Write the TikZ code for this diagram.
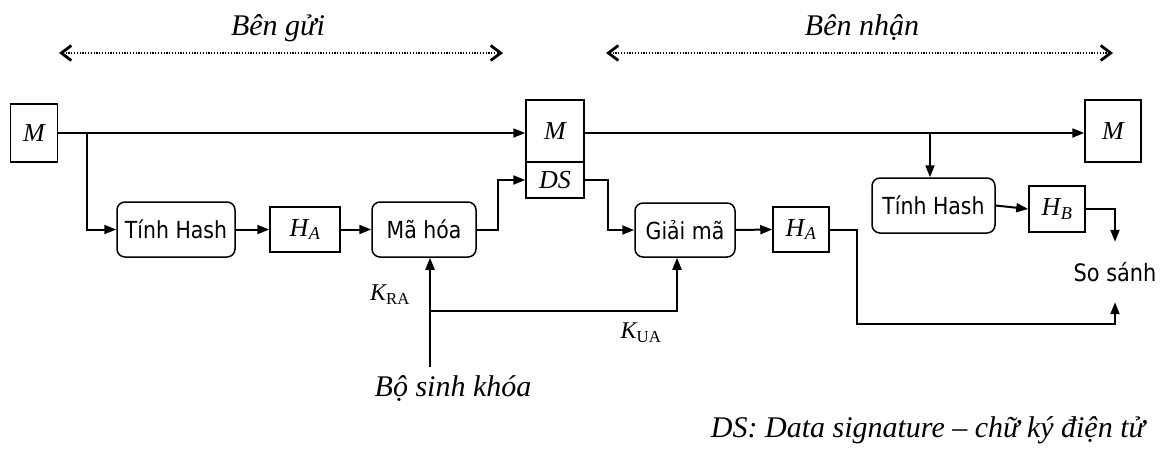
\documentclass[tikz,border=0pt]{standalone}
\usepackage{fontspec}
\setmainfont{Liberation Serif}
\setsansfont[FakeStretch=0.87]{DejaVu Sans}
\usetikzlibrary{arrows.meta,calc}
\newcommand{\vsub}[2]{{\itshape #1}\kern0.5pt\textsubscript{\itshape #2}}
\begin{document}
\begin{tikzpicture}[x=1pt,y=-1pt,
  mbox/.style={draw,line width=1.5pt,inner sep=0pt,font=\itshape\fontsize{26}{30}\selectfont},
  rbox/.style={draw,line width=1.5pt,rounded corners=8pt,inner sep=0pt,font=\sffamily\fontsize{23.5}{28}\selectfont},
  conn/.style={line width=2pt,-{Triangle[length=12pt,width=9pt]}},
  side/.style={line width=2pt,dash pattern=on 1.2pt off 1.6pt,
    {Straight Barb[length=10pt,width=15pt,line width=2.8pt]}-{Straight Barb[length=10pt,width=15pt,line width=2.8pt]}},
  lab/.style={font=\itshape\fontsize{30}{34}\selectfont},
  klab/.style={font=\fontsize{24}{28}\selectfont}]
\useasboundingbox (0,0) rectangle (1162,450);

% side labels
\node[lab] (ben1) at (278,28) {Bên gửi};
\node[lab] (ben2) at (862,28) {Bên nhận};
\coordinate (s1a) at (59,53);
\coordinate (s1b) at (503,53);
\coordinate (s2a) at (606,53);
\coordinate (s2b) at (1113,53);
\draw[side] (s1a) -- (s1b);
\draw[side] (s2a) -- (s2b);

% nodes
\node[mbox,minimum width=47pt,minimum height=58pt] (mL) at (34,133) {M};
\node[mbox,minimum width=58pt,minimum height=62pt] (mM) at (555,131) {M};
\node[mbox,minimum width=58pt,minimum height=36pt] (ds) at (555,180) {DS};
\node[mbox,minimum width=56pt,minimum height=62pt] (mR) at (1113,131) {M};
\node[rbox,minimum width=118pt,minimum height=55pt] (th1) at (176,229.5) {Tính Hash};
\node[mbox,minimum width=70pt,minimum height=45pt] (ha1) at (305,229.5) {\vsub{H}{A}};
\node[rbox,minimum width=104pt,minimum height=55pt] (mh) at (424,229.5) {Mã hóa};
\node[rbox,minimum width=100pt,minimum height=54pt] (gm) at (685,230) {Giải mã};
\node[mbox,minimum width=56pt,minimum height=45pt] (ha2) at (801,229.5) {\vsub{H}{A}};
\node[rbox,minimum width=123pt,minimum height=55pt] (th2) at (933.5,205.5) {Tính Hash};
\node[mbox,minimum width=56pt,minimum height=46pt] (hb) at (1057,209) {\vsub{H}{B}};
\node[font=\sffamily\fontsize{24}{28}\selectfont,minimum height=60pt,inner sep=0pt] (ss) at (1115,272) {So sánh};

\node[klab] (kra) at (390,295) {{\itshape K}\textsubscript{RA}};
\node[klab] (kua) at (641,333) {{\itshape K}\textsubscript{UA}};
\node[lab] (bsk) at (453,389) {Bộ sinh khóa};
\node[lab] (note) at (928,430) {DS: Data signature – chữ ký điện tử};

% connectors
\coordinate (b1) at (87,133);
\coordinate (b2) at (930,133);
\draw[conn] (mL.east) -- (mL.east -| mM.west);
\draw[conn] (b1) |- (th1.west);
\draw[conn] (mM.east |- mL.east) -- (mR.west |- mL.east);
\draw[conn] (b2) -- (b2 |- th2.north);
\draw[conn] (th1.east) -- (ha1.west);
\draw[conn] (ha1.east) -- (mh.west);
\draw[conn] (mh.east) -- ++(21,0) |- (ds.west);
\draw[conn] (ds.east) -- ++(23,0) |- (gm.west);
\draw[conn] (gm.east) -- (ha2.west);
\draw[conn] (th2.east) -- (hb.west);
\draw[conn] (hb.east) -| (ss.north);
\coordinate (sb) at (1115,324);
\draw[conn] (ha2.east) -- ++(27,0) |- (sb) -- (ss.south);
\coordinate (kg) at (430,367);
\coordinate (kj) at (430,311);
\draw[conn] (kg) -- (kg |- mh.south);
\draw[conn] (kj) -| ([xshift=-8pt]gm.south);
\end{tikzpicture}
\end{document}
